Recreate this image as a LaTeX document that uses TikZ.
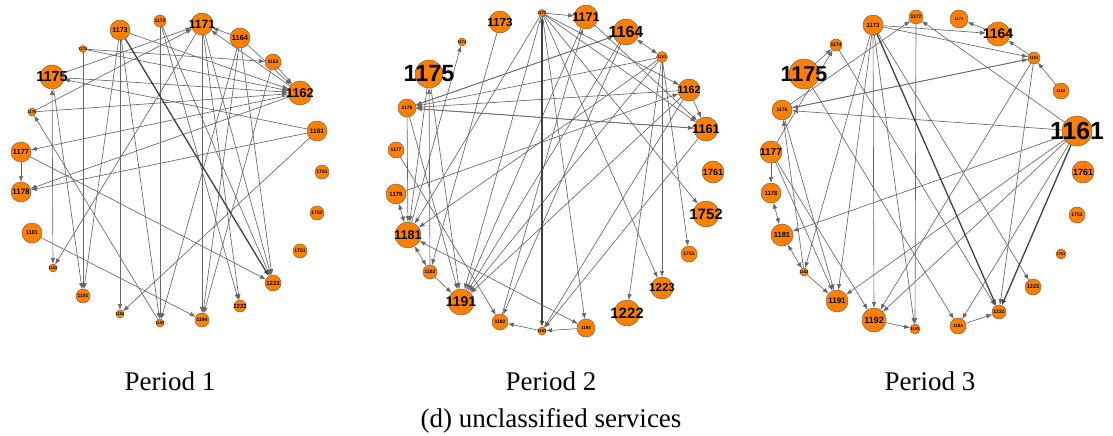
\documentclass[tikz,border=0pt]{standalone}
\usepackage{fontspec}
\setmainfont{Liberation Serif}
\setsansfont{Liberation Sans}
\usetikzlibrary{arrows.meta}
\definecolor{svcfill}{RGB}{255,128,0}
\definecolor{svcline}{RGB}{130,95,60}
\pgfdeclarelayer{bg}
\pgfsetlayers{bg,main}

\begin{document}
\begin{tikzpicture}
      [
      x=1pt, y=-1pt,
      >={Latex[length=6pt,width=4.5pt]},
      svc/.style={circle,draw=svcline,fill=svcfill,line width=0.5pt,inner sep=0pt,outer sep=0pt},
      lbl/.style={font=\sffamily\bfseries\fontsize{#1}{#1}\selectfont,inner sep=0pt},
      edge/.style={draw=black!60,line width=0.65pt,->},
      bidir/.style={draw=black!60,line width=0.65pt,<->},
      heavy/.style={draw=black!75,line width=1.3pt},
      caption/.style={font=\fontsize{27}{30}\selectfont,inner sep=0pt},
      ]
      \useasboundingbox (0,0) rectangle (1113,436);
      % Period 1
      \foreach \id/\px/\py/\rad/\fs in {1175/52/77/12/14.4, 1174/83/49/3.5/4, 1173/120/30/10/7,
        1172/160/21/6/5, 1171/202/24/11/12, 1164/240/38/10/7.5, 1163/273/62/8/5,
        1162/300/93/12/12.7, 1161/317/131/10/6.5, 1761/322/172/7/5, 1752/317/213/7/5,
        1751/300/251/7/5, 1223/273/283/8/6, 1222/240/306/6/6, 1194/202/320/7/5,
        1193/160/323/4/4, 1192/120/314/4/4, 1191/83/296/7/5, 1182/53/268/4/4,
        1181/32/233/10/5.5, 1178/21/192/10/8, 1177/21/152/10/7.5, 1176/32/112/4/4}
        \node[svc,minimum size=2*\rad pt,label={[lbl=\fs]center:\id}] (a\id) at (\px,\py) {};
      % Period 2
      \foreach \id/\px/\py/\rad/\fs in {1175/429/74/14/23.5, 1174/462/42/4/4, 1173/500/22/11/11.7,
        1172/542/13/3.5/4, 1171/586/17/12/12.5, 1164/626/32/13/16, 1163/662/57/5.5/4,
        1162/689/90/11/10.5, 1161/706/129/12/12.7, 1761/713/172/11/9, 1752/706/214/13/15,
        1751/689/254/8/5, 1223/662/288/11/11.5, 1222/627/313/13/15, 1194/586/328/9/4.5,
        1193/542/331/4/4, 1192/500/322/8/5, 1191/461/302/13/14, 1182/430/272/7/5,
        1181/408/235/13/12.7, 1178/396/194/10/6, 1177/396/150/8/5, 1176/407/108/9/5}
        \node[svc,minimum size=2*\rad pt,label={[lbl=\fs]center:\id}] (b\id) at (\px,\py) {};
      % Period 3
      \foreach \id/\px/\py/\rad/\fs in {1175/804/74/15/21.5, 1174/836/45/6/5, 1173/873/25/10/6,
        1172/916/17/7/5, 1171/959/19/9/4, 1164/998/34/12/14, 1163/1034/58/6/4,
        1162/1061/91/8/4, 1161/1077/131/15/24.7, 1761/1083/172/11/9, 1752/1077/215/8/5,
        1751/1061/254/5/4, 1223/1033/287/8/5.5, 1222/999/312/7/5, 1194/958/326/8/4.5,
        1193/915/329/5/4, 1192/874/320/12/9, 1191/837/301/11/8, 1182/804/272/4/4,
        1181/782/235/11/7.5, 1178/771/193/10/6, 1177/771/152/11/10, 1176/782/110/10/5}
        \node[svc,minimum size=2*\rad pt,label={[lbl=\fs]center:\id}] (c\id) at (\px,\py) {};

      \begin{pgfonlayer}{bg}
      \begin{scope}[edge]
        \foreach \u/\v in {1176/1171, 1175/1171, 1175/1162, 1161/1175, 1174/1163, 1173/1162,
          1174/1162, 1176/1162, 1162/1177, 1162/1178, 1164/1171, 1162/1171, 1163/1162,
          1164/1162, 1171/1223, 1172/1223, 1164/1223, 1177/1223, 1173/1192, 1172/1193,
          1171/1194, 1174/1191, 1173/1191, 1171/1182, 1193/1176, 1181/1194, 1164/1193,
          1161/1192, 1171/1222, 1172/1222, 1175/1191, 1164/1194, 1173/1193, 1161/1178,
          1177/1178, 1163/1194}
          \draw (a\u) -- (a\v);
        \draw[heavy] (a1173) -- (a1223);
        \foreach \u/\v in {1172/1171, 1172/1161, 1172/1223, 1172/1752, 1172/1191, 1172/1194,
          1172/1162, 1172/1181, 1164/1176, 1163/1176, 1162/1176, 1161/1176, 1176/1164,
          1176/1161, 1162/1161, 1171/1161, 1178/1162, 1181/1174, 1182/1175, 1175/1191,
          1176/1181, 1175/1181, 1182/1191, 1176/1191, 1171/1191, 1164/1191, 1163/1191,
          1162/1191, 1173/1182, 1177/1192, 1193/1192, 1163/1222, 1163/1223, 1163/1751,
          1164/1192, 1162/1193, 1161/1193, 1192/1171, 1163/1181, 1194/1193}
          \draw (b\u) -- (b\v);
        \foreach \u/\v in {1173/1192, 1173/1191, 1173/1193, 1173/1223, 1173/1182, 1173/1164,
          1173/1163, 1161/1191, 1161/1192, 1161/1176, 1161/1181, 1161/1172, 1161/1194,
          1175/1174, 1177/1174, 1163/1176, 1182/1176, 1177/1178, 1164/1171, 1176/1163,
          1163/1164, 1162/1163, 1176/1172, 1177/1191, 1176/1191, 1177/1192, 1163/1192,
          1172/1193, 1192/1193, 1194/1222, 1163/1222, 1174/1222, 1175/1194, 1182/1191}
          \draw (c\u) -- (c\v);
        \draw[heavy] (c1173) -- (c1222);
        \draw[heavy] (c1161) -- (c1222);
      \end{scope}
      \begin{scope}[bidir]
        \draw (a1175) -- (a1182);
        \draw[heavy] (b1172) -- (b1193);
        \foreach \u/\v in {1163/1164, 1178/1181, 1181/1182, 1181/1194}
          \draw (b\u) -- (b\v);
        \foreach \u/\v in {1178/1181, 1181/1182}
          \draw (c\u) -- (c\v);
      \end{scope}
      \end{pgfonlayer}

      \node[caption] (cap1) at (170,381) {Period 1};
      \node[caption] (cap2) at (551,381) {Period 2};
      \node[caption] (cap3) at (930,381) {Period 3};
      \node[caption] (capd) at (551,421) {(d) unclassified services};
    \end{tikzpicture}
\end{document}
